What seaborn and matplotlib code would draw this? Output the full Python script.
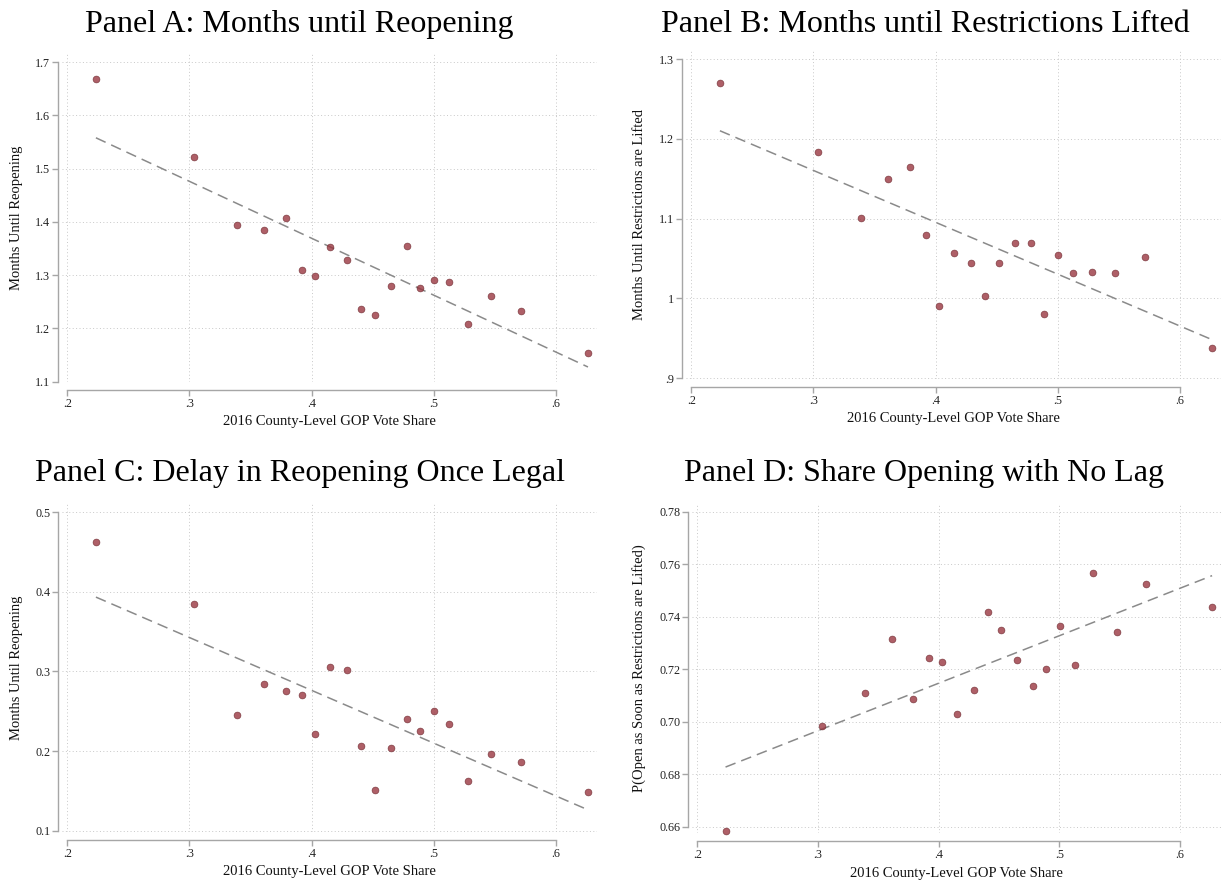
import numpy as np
import pandas as pd
import matplotlib
matplotlib.use("Agg")
import matplotlib.pyplot as plt
import seaborn as sns

# binned GOP vote share (same 20 bins in every panel)
gop_share = [0.2233, 0.3034, 0.3387, 0.3611, 0.3789, 0.3919, 0.4029, 0.4152, 0.4292, 0.4408,
             0.4519, 0.4652, 0.4784, 0.4891, 0.5002, 0.5128, 0.5280, 0.5475, 0.5721, 0.6266]

months_reopen = [1.669, 1.522, 1.395, 1.384, 1.407, 1.309, 1.298, 1.353, 1.329, 1.236,
                 1.226, 1.279, 1.355, 1.275, 1.290, 1.288, 1.209, 1.261, 1.233, 1.153]
months_lifted = [1.270, 1.184, 1.101, 1.150, 1.165, 1.080, 0.991, 1.057, 1.044, 1.003,
                 1.045, 1.070, 1.070, 0.981, 1.055, 1.032, 1.033, 1.032, 1.052, 0.938]
delay_reopen = [0.463, 0.385, 0.246, 0.284, 0.275, 0.271, 0.222, 0.306, 0.302, 0.207,
                0.151, 0.204, 0.240, 0.225, 0.251, 0.234, 0.163, 0.196, 0.187, 0.149]
share_nolag = [0.6583, 0.6986, 0.7110, 0.7316, 0.7088, 0.7243, 0.7227, 0.7029, 0.7123, 0.7419,
               0.7350, 0.7235, 0.7138, 0.7201, 0.7364, 0.7217, 0.7568, 0.7344, 0.7524, 0.7437]

titles = ["Panel A: Months until Reopening",
          "Panel B: Months until Restrictions Lifted",
          "Panel C: Delay in Reopening Once Legal",
          "Panel D: Share Opening with No Lag"]
ylabels = ["Months Until Reopening",
           "Months Until Restrictions are Lifted",
           "Months Until Reopening",
           "P(Open as Soon as Restrictions are Lifted)"]
x_ticks = [0.2, 0.3, 0.4, 0.5, 0.6]
x_ticklabels = [".2", ".3", ".4", ".5", ".6"]
y_ticks = [[1.1, 1.2, 1.3, 1.4, 1.5, 1.6, 1.7],
           [0.9, 1.0, 1.1, 1.2, 1.3],
           [0.1, 0.2, 0.3, 0.4, 0.5],
           [0.66, 0.68, 0.70, 0.72, 0.74, 0.76, 0.78]]
y_ticklabels = [["1.1", "1.2", "1.3", "1.4", "1.5", "1.6", "1.7"],
                [".9", "1", "1.1", "1.2", "1.3"],
                ["0.1", "0.2", "0.3", "0.4", "0.5"],
                ["0.66", "0.68", "0.70", "0.72", "0.74", "0.76", "0.78"]]
series = [months_reopen, months_lifted, delay_reopen, share_nolag]

sns.set_theme(style="white")
plt.rcParams['font.family'] = ['Liberation Serif', 'DejaVu Serif']

W, H = 1225, 886
fig = plt.figure(figsize=(W / 100, H / 100), dpi=100)

# plot boxes in pixels: left, top, right, bottom
boxes = [(62, 53, 597, 382), (686, 50, 1221, 379), (62, 503, 597, 832), (692, 503, 1221, 833)]
ylims = [(1.0994, 1.7169), (0.8991, 1.3113), (0.0987, 0.5113), (0.6577, 0.7834)]
title_pos = [(299, 32), (925, 32), (300, 481), (924, 481)]
ylab_x = [16, 639, 16, 639]

spine_col = "#a6a6a6"
for i in range(4):
    l, t, r, b = boxes[i]
    ax = fig.add_axes([l / W, 1 - b / H, (r - l) / W, (b - t) / H])
    df = pd.DataFrame({"x": gop_share, "y": series[i]})
    sns.regplot(data=df, x="x", y="y", ax=ax, ci=None, truncate=True,
                scatter_kws=dict(s=24, color="#9a3741", edgecolor="#6e2a30", linewidths=0.5,
                                 zorder=3, clip_on=False),
                line_kws=dict(color="#8a8a8a", lw=1.1, ls=(0, (7, 4)), zorder=2))
    ax.set_xlim(0.1955, 0.634)
    ax.set_ylim(*ylims[i])
    ax.set_xticks(x_ticks)
    ax.set_xticklabels(x_ticklabels)
    ax.set_yticks(y_ticks[i])
    ax.set_yticklabels(y_ticklabels[i])
    ax.grid(True, ls=(0, (1, 2.5)), color="#c8c8c8", lw=0.7)
    ax.set_axisbelow(True)
    for s in ["top", "right"]:
        ax.spines[s].set_visible(False)
    ax.spines["left"].set_position(("outward", 3))
    ax.spines["bottom"].set_position(("outward", 6))
    ax.spines["left"].set_bounds(y_ticks[i][0], y_ticks[i][-1])
    ax.spines["bottom"].set_bounds(x_ticks[0], x_ticks[-1])
    for s in ["left", "bottom"]:
        ax.spines[s].set_color(spine_col)
        ax.spines[s].set_linewidth(1.0)
    ax.tick_params(axis="both", which="major", direction="out", length=4, width=1.0,
                   color=spine_col, labelsize=8.7, labelcolor="#222222", pad=1.5,
                   left=True, bottom=True)
    ax.set_xlabel("2016 County-Level GOP Vote Share", fontsize=10.5, color="#111111")
    ax.set_ylabel(ylabels[i], fontsize=10.5, color="#111111")
    ax.xaxis.set_label_coords(0.5, (b - (b + 40)) / (b - t))
    ax.xaxis.label.set_va("center")
    ax.yaxis.set_label_coords((ylab_x[i] - l) / (r - l), 0.5)
    ax.yaxis.label.set_va("center")
    tx, ty = title_pos[i]
    fig.text(tx / W, 1 - ty / H, titles[i], ha="center", va="baseline", fontsize=23, color="#000000")

fig.savefig("out.png", dpi=100, facecolor="white")
